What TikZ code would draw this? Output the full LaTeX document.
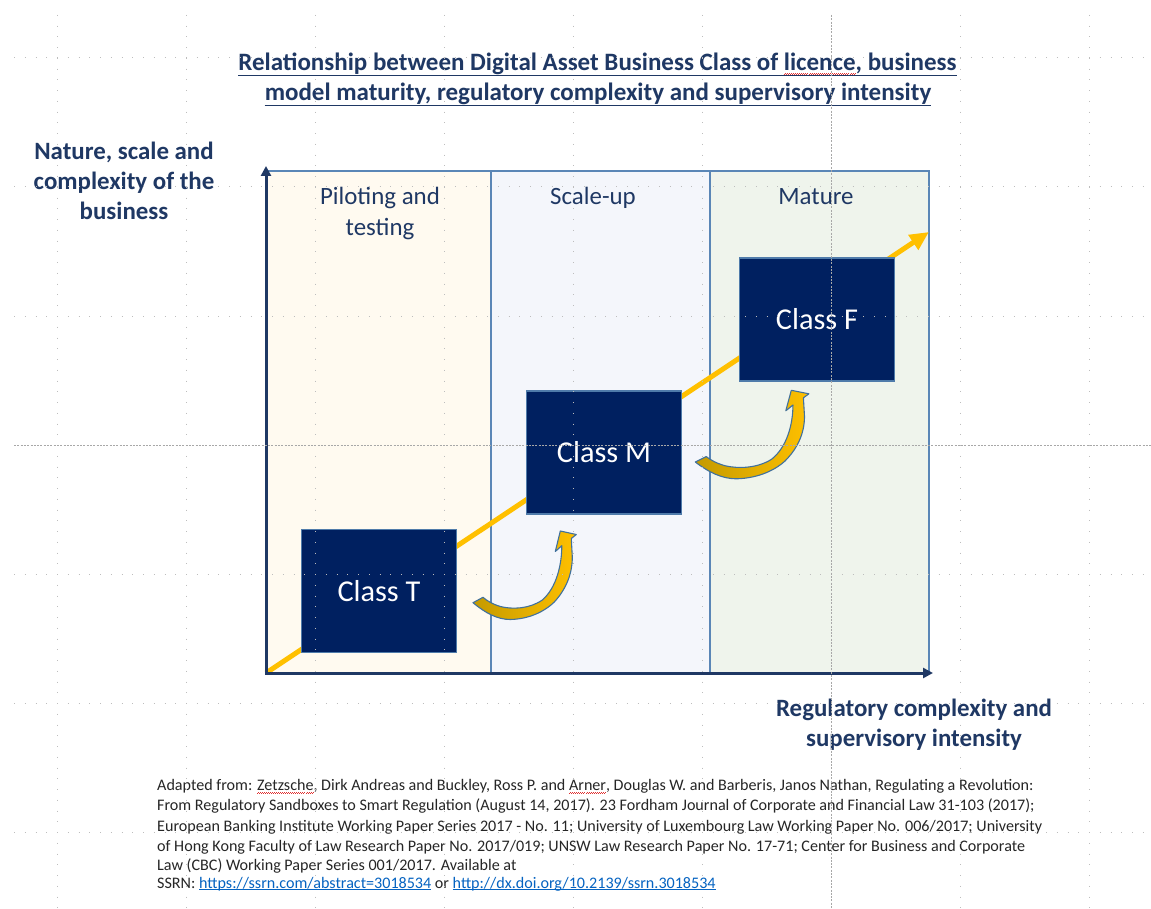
\documentclass[tikz,border=0pt]{standalone}
\usepackage{fontspec}
\setmainfont{Carlito}
\usetikzlibrary{arrows.meta,calc}
\definecolor{navytext}{HTML}{1F3864}
\definecolor{boxfill}{HTML}{002060}
\definecolor{boxborder}{HTML}{4F7BAA}
\definecolor{panelborder}{HTML}{5A86B6}
\definecolor{pcream}{HTML}{FFFAF0}
\definecolor{pblue}{HTML}{F4F6FB}
\definecolor{pgreen}{HTML}{EFF4EC}
\definecolor{goldline}{HTML}{FFC000}
\definecolor{golddark}{HTML}{C49A00}
\definecolor{arrowedge}{HTML}{41719C}
\definecolor{citegray}{HTML}{262626}
\definecolor{linkblue}{HTML}{0563C1}
\definecolor{spellred}{HTML}{E03030}
\definecolor{gridgray}{HTML}{BDBDBD}
\definecolor{griddark}{HTML}{A8A8A8}
\newsavebox\wordbox
\newcommand\spellmark[1]{\sbox\wordbox{#1}\rlap{\textcolor{spellred}{\hbox to\wd\wordbox{\xleaders\hbox{\rule[-3.2pt]{1pt}{0.6pt}\rule[-2.4pt]{1pt}{0.6pt}}\hfill}}}\usebox\wordbox}
\newcommand\linku[1]{\textcolor{linkblue}{\sbox\wordbox{#1}\rlap{\rule[-2pt]{\wd\wordbox}{0.8pt}}\usebox\wordbox}}
\tikzset{
  titletext/.style={inner sep=0pt, text=navytext, font={\fontsize{25}{30}\selectfont\bfseries}},
  axistext/.style={inner sep=0pt, text=navytext, align=center, font={\fontsize{24.9}{30}\selectfont\bfseries}},
  phasetext/.style={inner sep=0pt, text=navytext, align=center, font={\fontsize{24.9}{31}\selectfont}},
  citetext/.style={inner sep=0pt, anchor=base west, text=citegray, font={\fontsize{16.1}{20}\selectfont}},
  classbox/.style={draw=boxborder, line width=1.6pt, fill=boxfill, text=white,
     minimum width=155pt, minimum height=123pt, inner sep=0pt, font={\fontsize{30.3}{34}\selectfont}},
  panelline/.style={draw=panelborder, line width=1.8pt},
  axisline/.style={draw=navytext, line width=3pt, line join=miter},
  yellowline/.style={draw=goldline, line width=5pt, -{Triangle[length=19pt,width=17pt]}},
  curvstyle/.style={draw=arrowedge, line width=1.1pt, left color=golddark, right color=goldline, line join=round},
  gridline/.style={draw=gridgray, line width=1pt, dash pattern=on 1pt off 9.75pt},
  griddash/.style={draw=griddark, line width=0.8pt, dash pattern=on 2pt off 1.3pt},
  curvup/.pic={
    \path[curvstyle] (15.7,11.7) .. controls (28,22) and (40,28.5) .. (53,28.5)
      .. controls (75,28) and (90,18) .. (97,11)
      .. controls (108,-1) and (115,-16) .. (115,-34)
      -- (114,-52.5) -- (119,-56.5) -- (103,-60) -- (98,-39.5) -- (104.5,-45.3)
      .. controls (104.5,-26) and (99,-3) .. (85,9)
      .. controls (72,18) and (55,18.5) .. (43,15.5)
      .. controls (35,13) and (30,10) .. (25.7,6.3) -- cycle;
  }
}
\begin{document}
\begin{tikzpicture}[x=1pt, y=-1pt]
\useasboundingbox (0,0) rectangle (1151,909);
\fill[white] (0,0) rectangle (1151,909);

% panels
\fill[pcream] (266,171) rectangle (491,673);
\fill[pblue] (491,171) rectangle (710,673);
\fill[pgreen] (710,171) rectangle (929,673);
\draw[panelline] (266,171) rectangle (929,673);
\draw[panelline] (491,171) -- (491,673);
\draw[panelline] (710,171) -- (710,673);

% phase labels
\node[phasetext] (pilot) at (380,213) {Piloting and\\testing};
\node[phasetext, anchor=base] (scale) at (593,205) {Scale-up};
\node[phasetext, anchor=base] (mature) at (816,205) {Mature};

% diagonal trend arrow
\coordinate (O) at (266,673);
\coordinate (trend) at (929,232);
\draw[yellowline] (O) -- (trend);

% axes
\coordinate (ytop) at (266,166);
\coordinate (xend) at (933,673);
\draw[axisline, {Triangle[length=10pt,width=10pt]}-{Triangle[length=10pt,width=10pt]}] (ytop) -- (O) -- (xend);

% class boxes
\node[classbox] (T) at (379,591) {Class T};
\node[classbox] (M) at (604,452.5) {Class M};
\node[classbox] (F) at (817,319.5) {Class F};

% curved transition arrows
\pic at (T.east) {curvup};
\pic[xscale=1.1] at ([shift={(-4.3,-2.2)}]M.east) {curvup};

% title
\node[titletext, anchor=base] (title1) at (597.5,71) {Relationship between Digital Asset Business Class of \spellmark{licence}, business};
\node[titletext, anchor=base] (title2) at (598,101) {model maturity, regulatory complexity and supervisory intensity};
\draw[navytext, line width=1.5pt] ([yshift=-4.5pt]title1.base west) -- ([yshift=-4.5pt]title1.base east);
\draw[navytext, line width=1.5pt] ([yshift=-4.5pt]title2.base west) -- ([yshift=-4.5pt]title2.base east);

% axis labels
\node[axistext] (ylab) at (124,181) {Nature, scale and\\complexity of the\\business};
\node[axistext] (xlab) at (914,725) {Regulatory complexity and\\supervisory intensity};

% citation
\node[citetext] (c1) at (157,790) {Adapted from: \spellmark{Zetzsche}, Dirk Andreas and Buckley, Ross P. and \spellmark{Arner}, Douglas W. and Barberis, Janos Nathan, Regulating a Revolution:};
\node[citetext] (c2) at (157,810.5) {From Regulatory Sandboxes to Smart Regulation (August 14, 2017). 23 Fordham Journal of Corporate and Financial Law 31-103 (2017);};
\node[citetext] (c3) at (157,831) {European Banking Institute Working Paper Series 2017 - No. 11; University of Luxembourg Law Working Paper No. 006/2017; University};
\node[citetext] (c4) at (157,851) {of Hong Kong Faculty of Law Research Paper No. 2017/019; UNSW Law Research Paper No. 17-71; Center for Business and Corporate};
\node[citetext] (c5) at (157,870) {Law (CBC) Working Paper Series 001/2017. Available at};
\node[citetext] (c6) at (157,888) {SSRN: \linku{https://ssrn.com/abstract=3018534} or \linku{http://dx.doi.org/10.2139/ssrn.3018534}};

% page gridlines
\foreach \gx in {57,186,315,444,573,702,960,1089} {
  \draw[gridline] (\gx,15) -- (\gx,909);
}
\foreach \gy in {58,187,316,574,703,832} {
  \draw[gridline] (14,\gy) -- (1151,\gy);
}
\draw[griddash] (831,15) -- (831,909);
\draw[griddash] (14,445) -- (1151,445);
\end{tikzpicture}
\end{document}
